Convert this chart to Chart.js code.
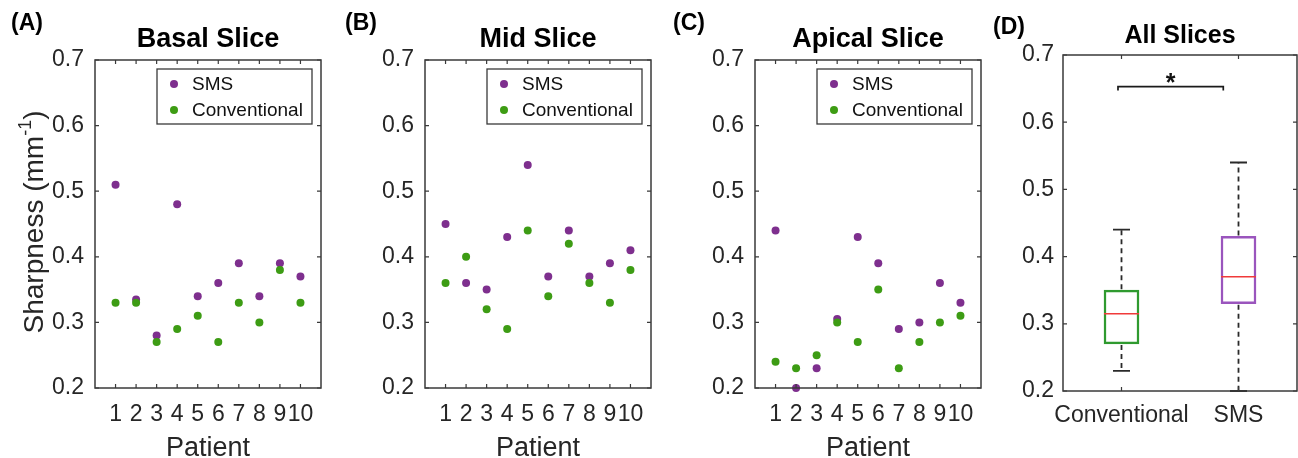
<!DOCTYPE html>
<html>
<head>
<meta charset="utf-8">
<script src="https://cdn.jsdelivr.net/npm/chart.js@4.4.0/dist/chart.umd.min.js"></script>
<style>
    body { margin: 0; background: #fff; }
    #wrap { position: relative; width: 1298px; height: 458px; overflow: hidden; background: #fff; }
    #wrap canvas { position: absolute; top: 0; }
</style>
</head>
<body>
<div id="wrap">
    <canvas id="basal" width="330" height="458" style="left:0px"></canvas>
    <canvas id="mid" width="330" height="458" style="left:330px"></canvas>
    <canvas id="apical" width="330" height="458" style="left:660px"></canvas>
    <canvas id="all" width="318" height="458" style="left:980px"></canvas>
</div>
<script>
// Data
const PATIENTS = [1, 2, 3, 4, 5, 6, 7, 8, 9, 10];

const BASAL_SMS  = [0.51, 0.335, 0.28, 0.48, 0.34, 0.36, 0.39, 0.34, 0.39, 0.37];
const BASAL_CONV = [0.33, 0.33, 0.27, 0.29, 0.31, 0.27, 0.33, 0.30, 0.38, 0.33];

const MID_SMS  = [0.45, 0.36, 0.35, 0.43, 0.54, 0.37, 0.44, 0.37, 0.39, 0.41];
const MID_CONV = [0.36, 0.40, 0.32, 0.29, 0.44, 0.34, 0.42, 0.36, 0.33, 0.38];

const APICAL_SMS  = [0.44, 0.20, 0.23, 0.305, 0.43, 0.39, 0.29, 0.30, 0.36, 0.33];
const APICAL_CONV = [0.24, 0.23, 0.25, 0.30, 0.27, 0.35, 0.23, 0.27, 0.30, 0.31];

// Box plot summary (all slices)
const GROUPS     = ['Conventional', 'SMS'];
const BOX_MIN    = [0.23, 0.20];
const BOX_Q1     = [0.27, 0.33];
const BOX_MEDIAN = [0.315, 0.37];
const BOX_Q3     = [0.35, 0.43];
const BOX_MAX    = [0.44, 0.54];

// significance bracket, in group units (1 = Conventional, 2 = SMS)
const SIG_FROM = 0.97, SIG_TO = 1.87, SIG_Y = 0.653, SIG_DROP = 0.006;

const Y_MIN = 0.2, Y_MAX = 0.7, Y_STEP = 0.1;

const PURPLE = '#7e2f8e';
const GREEN = '#3d9c14';
const BOX_GREEN = '#2f9a2f';
const BOX_PURPLE = '#9a55bd';
const MEDIAN_RED = '#f03a3a';
const AXIS_COLOR = '#3a3a3a';
const TEXT_COLOR = '#262626';
const FONT = '"Liberation Sans", Arial, Helvetica, sans-serif';

Chart.defaults.font.family = FONT;

// Frame, inward ticks, legend and labels (MATLAB look)
const panelDeco = {
    id: 'panelDeco',
    afterDatasetsDraw(chart, args, opts) {
        const { ctx, chartArea: a, scales } = chart;
        ctx.save();
        ctx.strokeStyle = AXIS_COLOR;
        ctx.lineWidth = 1.5;
        ctx.strokeRect(a.left, a.top, a.right - a.left, a.bottom - a.top);

        ctx.beginPath();
        scales.x.ticks.forEach((t, i) => {
            const px = scales.x.getPixelForTick(i);
            ctx.moveTo(px, a.bottom); ctx.lineTo(px, a.bottom - 4);
            ctx.moveTo(px, a.top); ctx.lineTo(px, a.top + 4);
        });
        scales.y.ticks.forEach((t, i) => {
            const py = scales.y.getPixelForTick(i);
            ctx.moveTo(a.left, py); ctx.lineTo(a.left + 4, py);
            ctx.moveTo(a.right, py); ctx.lineTo(a.right - 4, py);
        });
        ctx.lineWidth = 1.2;
        ctx.stroke();

        if (opts.legend) {
            const L = opts.legend;
            ctx.fillStyle = '#fff';
            ctx.fillRect(L.x, L.y, L.w, L.h);
            ctx.lineWidth = 1.3;
            ctx.strokeStyle = AXIS_COLOR;
            ctx.strokeRect(L.x, L.y, L.w, L.h);
            ctx.font = '19px ' + FONT;
            ctx.textBaseline = 'middle';
            ctx.textAlign = 'left';
            chart.data.datasets.forEach((ds, i) => {
                const cy = L.y + 15 + i * 26;
                ctx.fillStyle = ds.backgroundColor;
                ctx.beginPath();
                ctx.arc(L.x + 17, cy, 4, 0, Math.PI * 2);
                ctx.fill();
                ctx.fillStyle = '#111';
                ctx.fillText(ds.label, L.x + 35, cy + 1);
            });
        }
        ctx.restore();
    },
    afterDraw(chart, args, opts) {
        const { ctx, chartArea: a } = chart;
        const cx = (a.left + a.right) / 2;
        ctx.save();
        ctx.fillStyle = '#000';
        ctx.textBaseline = 'middle';

        ctx.textAlign = 'left';
        ctx.font = 'bold 23px ' + FONT;
        ctx.fillText(opts.letter, opts.letterX, opts.letterY);

        ctx.textAlign = 'center';
        ctx.font = 'bold ' + opts.titleSize + 'px ' + FONT;
        ctx.fillText(opts.title, cx, opts.titleY);

        if (opts.xlabel) {
            ctx.fillStyle = TEXT_COLOR;
            ctx.font = '27px ' + FONT;
            ctx.textBaseline = 'alphabetic';
            ctx.fillText(opts.xlabel, cx, 456);
        }

        if (opts.ylabel) {
            const cy = (a.top + a.bottom) / 2 - 2;
            ctx.translate(33, cy);
            ctx.rotate(-Math.PI / 2);
            ctx.fillStyle = TEXT_COLOR;
            ctx.textAlign = 'left';
            ctx.textBaseline = 'alphabetic';
            ctx.font = '28px ' + FONT;
            const w1 = ctx.measureText('Sharpness (mm').width;
            const w3 = ctx.measureText(')').width;
            ctx.font = '18px ' + FONT;
            const w2 = ctx.measureText('-1').width;
            let x = -(w1 + w2 + w3) / 2;
            ctx.font = '28px ' + FONT;
            ctx.fillText('Sharpness (mm', x, 10);
            x += w1;
            ctx.font = '18px ' + FONT;
            ctx.fillText('-1', x, -2);
            x += w2;
            ctx.font = '28px ' + FONT;
            ctx.fillText(')', x, 10);
        }
        ctx.restore();
    }
};

function yScale(width, pad) {
    return {
        min: Y_MIN,
        max: Y_MAX,
        afterFit: s => { s.width = width; },
        grid: { display: false, drawTicks: false },
        border: { display: false },
        ticks: {
            stepSize: Y_STEP,
            padding: pad,
            color: TEXT_COLOR,
            font: { size: 23 },
            callback: v => v.toFixed(1)
        }
    };
}

function slicePanel(id, letter, letterX, title, sms, conv, showYLabel) {
    new Chart(document.getElementById(id), {
        type: 'scatter',
        data: {
            datasets: [
                {
                    label: 'SMS',
                    data: PATIENTS.map((p, i) => ({ x: p, y: sms[i] })),
                    backgroundColor: PURPLE,
                    borderWidth: 0,
                    pointRadius: 4,
                    clip: false,
                    order: 1
                },
                {
                    label: 'Conventional',
                    data: PATIENTS.map((p, i) => ({ x: p, y: conv[i] })),
                    backgroundColor: GREEN,
                    borderWidth: 0,
                    pointRadius: 4,
                    clip: false,
                    order: 0
                }
            ]
        },
        options: {
            responsive: false,
            animation: false,
            events: [],
            layout: { padding: { top: 60, right: 9, left: 0, bottom: 0 } },
            scales: {
                x: {
                    type: 'linear',
                    min: 0,
                    max: 11,
                    afterBuildTicks: s => { s.ticks = PATIENTS.map(v => ({ value: v })); },
                    afterFit: s => { s.height = 70; },
                    grid: { display: false, drawTicks: false },
                    border: { display: false },
                    ticks: {
                        autoSkip: false,
                        maxRotation: 0,
                        padding: 13,
                        color: TEXT_COLOR,
                        font: { size: 23 },
                        callback: v => String(v)
                    }
                },
                y: yScale(95, 11)
            },
            plugins: {
                legend: { display: false },
                tooltip: { enabled: false },
                panelDeco: {
                    letter: letter,
                    letterX: letterX,
                    letterY: 24,
                    title: title,
                    titleSize: 27,
                    titleY: 40,
                    xlabel: 'Patient',
                    ylabel: showYLabel,
                    legend: { x: 157, y: 69, w: 155, h: 55 }
                }
            }
        },
        plugins: [panelDeco]
    });
}

slicePanel('basal', '(A)', 11, 'Basal Slice', BASAL_SMS, BASAL_CONV, true);
slicePanel('mid', '(B)', 15, 'Mid Slice', MID_SMS, MID_CONV, false);
slicePanel('apical', '(C)', 13, 'Apical Slice', APICAL_SMS, APICAL_CONV, false);

// Whiskers, caps, medians and the significance bracket
const boxDeco = {
    id: 'boxDeco',
    afterDatasetsDraw(chart) {
        const { ctx, scales: { x, y } } = chart;
        ctx.save();
        GROUPS.forEach((g, i) => {
            const cx = x.getPixelForValue(i);
            ctx.strokeStyle = '#2a2a2a';
            ctx.lineWidth = 1.8;
            ctx.setLineDash([5, 4]);
            ctx.beginPath();
            ctx.moveTo(cx, y.getPixelForValue(BOX_Q3[i]) - 1);
            ctx.lineTo(cx, y.getPixelForValue(BOX_MAX[i]));
            ctx.moveTo(cx, y.getPixelForValue(BOX_Q1[i]) + 1);
            ctx.lineTo(cx, y.getPixelForValue(BOX_MIN[i]));
            ctx.stroke();
            ctx.setLineDash([]);
            ctx.beginPath();
            [BOX_MAX[i], BOX_MIN[i]].forEach(v => {
                const py = y.getPixelForValue(v);
                ctx.moveTo(cx - 8.5, py);
                ctx.lineTo(cx + 8.5, py);
            });
            ctx.stroke();
            ctx.strokeStyle = MEDIAN_RED;
            ctx.lineWidth = 1.5;
            ctx.beginPath();
            const my = y.getPixelForValue(BOX_MEDIAN[i]);
            ctx.moveTo(cx - 17.5, my);
            ctx.lineTo(cx + 17.5, my);
            ctx.stroke();
        });

        const x1 = x.getPixelForValue(SIG_FROM - 1);
        const x2 = x.getPixelForValue(SIG_TO - 1);
        const yTop = y.getPixelForValue(SIG_Y);
        const yEnd = y.getPixelForValue(SIG_Y - SIG_DROP);
        ctx.strokeStyle = '#1a1a1a';
        ctx.lineWidth = 1.7;
        ctx.beginPath();
        ctx.moveTo(x1, yEnd);
        ctx.lineTo(x1, yTop);
        ctx.lineTo(x2, yTop);
        ctx.lineTo(x2, yEnd);
        ctx.stroke();
        ctx.fillStyle = '#111';
        ctx.font = 'bold 25px ' + FONT;
        ctx.textAlign = 'center';
        ctx.textBaseline = 'alphabetic';
        ctx.fillText('*', (x1 + x2) / 2, yTop + 4);
        ctx.restore();
    }
};

new Chart(document.getElementById('all'), {
    type: 'bar',
    data: {
        labels: GROUPS,
        datasets: [{
            label: 'IQR',
            data: GROUPS.map((g, i) => [BOX_Q1[i], BOX_Q3[i]]),
            backgroundColor: 'rgba(255,255,255,0)',
            borderColor: [BOX_GREEN, BOX_PURPLE],
            borderWidth: 1.8,
            borderSkipped: false,
            barThickness: 35
        }]
    },
    options: {
        responsive: false,
        animation: false,
        events: [],
        layout: { padding: { top: 55, right: 1, left: 0, bottom: 0 } },
        scales: {
            x: {
                type: 'category',
                offset: true,
                afterFit: s => { s.height = 67; },
                grid: { display: false, drawTicks: false },
                border: { display: false },
                ticks: {
                    autoSkip: false,
                    maxRotation: 0,
                    padding: 10.5,
                    color: TEXT_COLOR,
                    font: { size: 23 }
                }
            },
            y: yScale(83, 9)
        },
        plugins: {
            legend: { display: false },
            tooltip: { enabled: false },
            panelDeco: {
                letter: '(D)',
                letterX: 13,
                letterY: 28,
                title: 'All Slices',
                titleSize: 25,
                titleY: 36
            }
        }
    },
    plugins: [boxDeco, panelDeco]
});
</script>
</body>
</html>
